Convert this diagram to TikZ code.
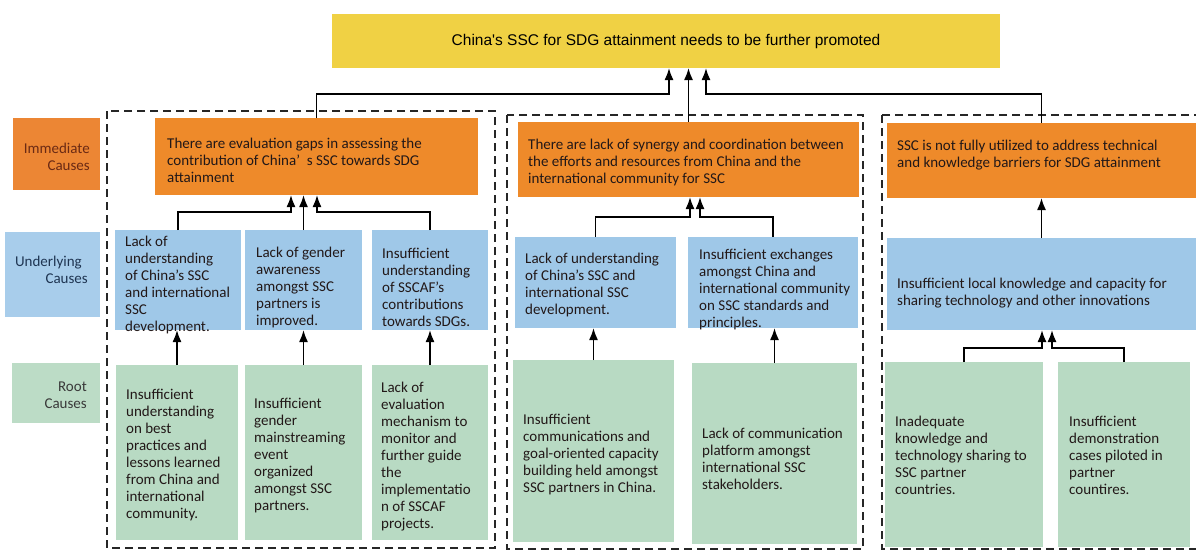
\documentclass[tikz,border=0pt]{standalone}
\usepackage{fontspec}
\setmainfont{Carlito}
\newfontfamily\arialf{Liberation Sans}
\usetikzlibrary{arrows.meta}
\definecolor{cyel}{HTML}{F0D144}
\definecolor{cora}{HTML}{EE8A2A}
\definecolor{cblu}{HTML}{9FC8E8}
\definecolor{cgrn}{HTML}{B8DAC3}
\definecolor{lora}{HTML}{EC8634}
\definecolor{lblu}{HTML}{A8CDEB}
\definecolor{lgrn}{HTML}{BCDCC6}
\definecolor{ctxt}{HTML}{221818}
\definecolor{torn}{HTML}{6B2A14}
\definecolor{tblu}{HTML}{1F3552}
\definecolor{tgrn}{HTML}{3A3A3A}
\newcommand\cbox[9]{%
  \node[bx, fill=#2, minimum width={(#5-#3)*1pt}, minimum height={(#6-#4)*1pt}] (#1) at ({(#3+#5)/2},{(#4+#6)/2}) {};
  \node[txt] (#1t) at (#7,#8) {#9};}
\begin{document}
\begin{tikzpicture}[x=1pt,y=-1pt,
  bx/.style={inner sep=0pt, outer sep=0pt, draw=none},
  txt/.style={inner sep=0pt, align=left, font=\fontsize{15}{17}\selectfont, text=ctxt, anchor=west},
  lab/.style={inner sep=0pt, align=right, font=\fontsize{15}{17}\selectfont, anchor=east},
  arr/.style={line width=1.7pt, -{Latex[length=12pt,width=9pt]}},
  dbox/.style={line width=2pt, dash pattern=on 8pt off 5pt, draw=black!85}]
\useasboundingbox (0,0) rectangle (1196,552);
\clip (0,0) rectangle (1196,552);
\fill[white] (0,0) rectangle (1196,552);

% dashed groups
\draw[dbox] (107,111) rectangle (495,548);
\draw[dbox] (507,115) rectangle (863,549);
\draw[dbox] (882,115) rectangle (1206,549);

% top box
\node[bx, fill=cyel, minimum width=668pt, minimum height=54pt,
      font=\arialf\fontsize{15.5}{18}\selectfont, text=black] (top) at (666,41)
      {China's SSC for SDG attainment needs to be further promoted};

% row labels
\node[bx, fill=lora, minimum width=87pt, minimum height=72pt] (L1) at (56.5,154) {};
\node[lab, text=torn] (L1t) at (90,157) {Immediate\\Causes};
\node[bx, fill=lblu, minimum width=95pt, minimum height=85pt] (L2) at (52.5,274.5) {};
\node[lab, text=tblu] (L2t) at (88,270) {Underlying\hspace*{6pt}\\Causes};
\node[bx, fill=lgrn, minimum width=88pt, minimum height=60pt] (L3) at (56,393) {};
\node[lab, text=tgrn] (L3t) at (87,395) {Root\\Causes};

% column 1
\cbox{o1}{cora}{155}{118}{478}{195}{167}{160}{There are evaluation gaps in assessing the\\contribution of China’ \ s SSC towards SDG\\attainment}
\cbox{b11}{cblu}{115}{230}{241}{330}{125}{285}{Lack of\\understanding\\of China's SSC\\and international\\SSC\\development.}
\cbox{b12}{cblu}{245}{230}{362}{330}{256}{287}{Lack of gender\\awareness\\amongst SSC\\partners is\\improved.}
\cbox{b13}{cblu}{372}{230}{488}{330}{382}{287}{Insufficient\\understanding\\of SSCAF's\\contributions\\towards SDGs.}
\cbox{g11}{cgrn}{116}{365}{238}{540}{126}{455}{Insufficient\\understanding\\on best\\practices and\\lessons learned\\from China and\\international\\community.}
\cbox{g12}{cgrn}{245}{365}{362}{540}{254}{456}{Insufficient\\gender\\mainstreaming\\event\\organized\\amongst SSC\\partners.}
\cbox{g13}{cgrn}{372}{365}{488}{540}{381}{457}{Lack of\\evaluation\\mechanism to\\monitor and\\further guide\\the\\implementatio\\n of SSCAF\\projects.}

% column 2
\cbox{o2}{cora}{518}{122}{859}{197}{528}{162}{There are lack of synergy and coordination between\\the efforts and resources from China and the\\international community for SSC}
\cbox{b21}{cblu}{515}{237}{676}{328}{525}{285}{Lack of understanding\\of China's SSC and\\international SSC\\development.}
\cbox{b22}{cblu}{688}{237}{858}{328}{699}{289}{Insufficient exchanges\\amongst China and\\international community\\on SSC standards and\\principles.}
\cbox{g21}{cgrn}{513}{360}{674}{542}{523}{455}{Insufficient\\communications and\\goal-oriented capacity\\building held amongst\\SSC partners in China.}
\cbox{g22}{cgrn}{692}{363}{857}{544}{702}{459}{Lack of communication\\platform amongst\\international SSC\\stakeholders.}

% column 3
\cbox{o3}{cora}{887}{123}{1196}{198}{897}{155}{SSC is not fully utilized to address technical\\and knowledge barriers for SDG attainment}
\cbox{b3}{cblu}{887}{238}{1196}{330}{897}{293}{Insufficient local knowledge and capacity for\\sharing technology and other innovations}
\cbox{g31}{cgrn}{885}{362}{1043}{547}{895}{455}{Inadequate\\knowledge and\\technology sharing to\\SSC partner\\countries.}
\cbox{g32}{cgrn}{1058}{362}{1190}{547}{1069}{455}{Insufficient\\demonstration\\cases piloted in\\partner\\countires.}

% junction points
\coordinate (tl) at (669,94);
\coordinate (tr) at (706,94);
\coordinate (j1a) at (291,212);
\coordinate (j1c) at (317,212);
\coordinate (j2a) at (690,217);
\coordinate (j2b) at (700,217);
\coordinate (j3a) at (1042,348);
\coordinate (j3b) at (1052,348);

% connectors to top
\draw[arr] (o1.north) |- (tl) -- (tl |- top.south);
\draw[arr] (o2.north) -- (o2.north |- top.south);
\draw[arr] (o3.north) |- (tr) -- (tr |- top.south);

% column 1 connectors
\draw[arr] (b11.north) |- (j1a) -- (j1a |- o1.south);
\draw[arr] (b12.north) -- (b12.north |- o1.south);
\draw[arr] (b13.north) |- (j1c) -- (j1c |- o1.south);
\draw[arr] (g11.north) -- (g11.north |- b11.south);
\draw[arr] (g12.north) -- (g12.north |- b12.south);
\draw[arr] (g13.north) -- (g13.north |- b13.south);

% column 2 connectors
\draw[arr] (b21.north) |- (j2a) -- (j2a |- o2.south);
\draw[arr] (b22.north) |- (j2b) -- (j2b |- o2.south);
\draw[arr] (g21.north) -- (g21.north |- b21.south);
\draw[arr] (g22.north) -- (g22.north |- b22.south);

% column 3 connectors
\draw[arr] (b3.north) -- (b3.north |- o3.south);
\draw[arr] (g31.north) |- (j3a) -- (j3a |- b3.south);
\draw[arr] (g32.north) |- (j3b) -- (j3b |- b3.south);
\end{tikzpicture}
\end{document}
